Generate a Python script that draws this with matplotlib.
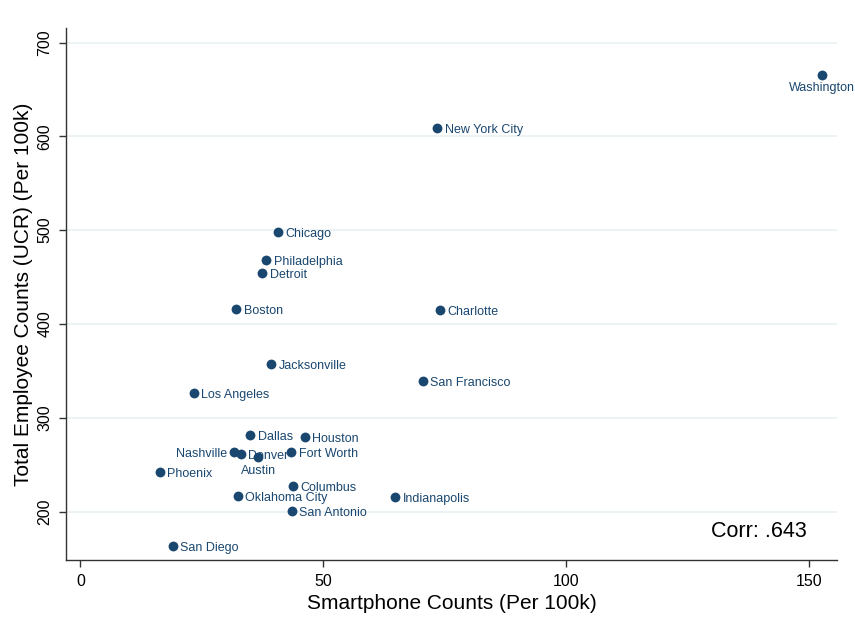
import matplotlib.pyplot as plt
import numpy as np

plt.rcParams['font.family'] = ['Liberation Sans', 'DejaVu Sans']

# donnees
villes = ["Washington", "New York City", "Chicago", "Philadelphia", "Detroit",
          "Boston", "Charlotte", "Jacksonville", "San Francisco", "Los Angeles",
          "Dallas", "Houston", "Nashville", "Denver", "Austin", "Fort Worth",
          "Phoenix", "Columbus", "Oklahoma City", "Indianapolis", "San Antonio",
          "San Diego"]
smartphone = [152.7, 73.5, 40.7, 38.3, 37.5, 32.1, 74.0, 39.2, 70.5, 23.3,
              34.9, 46.2, 31.7, 33.0, 36.6, 43.4, 16.3, 43.8, 32.4, 64.8,
              43.5, 19.0]
employes = [665.6, 608.7, 498.2, 468.0, 454.2, 415.8, 415.2, 357.1, 339.5, 326.2,
            281.4, 279.6, 263.9, 261.2, 258.0, 263.3, 242.6, 227.4, 217.1, 215.7,
            200.7, 163.0]
# position des etiquettes (style Stata : 3 = droite, 6 = dessous, 9 = gauche)
positions = {"Washington": 6, "Austin": 6, "Nashville": 9}

x_ticks = [0, 50, 100, 150]
y_ticks = [200, 300, 400, 500, 600, 700]
corr_txt = "Corr: .643"

navy = "#1a476f"

fig = plt.figure(figsize=(8.55, 6.18), dpi=100)
ax = fig.add_axes([0.0775, 0.094, 0.901, 0.86])

ax.scatter(smartphone, employes, s=50, color=navy, zorder=3, linewidths=0)

for nom, xv, yv in zip(villes, smartphone, employes):
    pos = positions.get(nom, 3)
    if pos == 3:
        ax.annotate(nom, (xv, yv), xytext=(5.5, -1.5), textcoords="offset points",
                    ha="left", va="center", fontsize=9, color=navy)
    elif pos == 6:
        ax.annotate(nom, (xv, yv), xytext=(0, -5.5), textcoords="offset points",
                    ha="center", va="top", fontsize=9, color=navy)
    else:
        ax.annotate(nom, (xv, yv), xytext=(-5.5, -1.5), textcoords="offset points",
                    ha="right", va="center", fontsize=9, color=navy)

ax.set_xlim(-2.9, 155.7)
ax.set_ylim(148.5, 715)
ax.set_xticks(x_ticks)
ax.set_yticks(y_ticks)
ax.set_yticklabels([str(v) for v in y_ticks], rotation=90, va="center")
ax.tick_params(axis="both", labelsize=11.5, length=5, width=1, color="#333333",
               pad=5)

ax.grid(axis="y", color="#eaf2f3", linewidth=1.3)
ax.set_axisbelow(True)
for s in ["top", "right"]:
    ax.spines[s].set_visible(False)
for s in ["left", "bottom"]:
    ax.spines[s].set_color("#333333")
    ax.spines[s].set_linewidth(1)

ax.set_xlabel("Smartphone Counts (Per 100k)", fontsize=15, labelpad=4)
ax.set_ylabel("Total Employee Counts (UCR) (Per 100k)", fontsize=15, labelpad=3)

ax.text(0.961, 0.053, corr_txt, transform=ax.transAxes, ha="right", va="center",
        fontsize=15.5, color="black")

fig.savefig("out.png", dpi=100)
